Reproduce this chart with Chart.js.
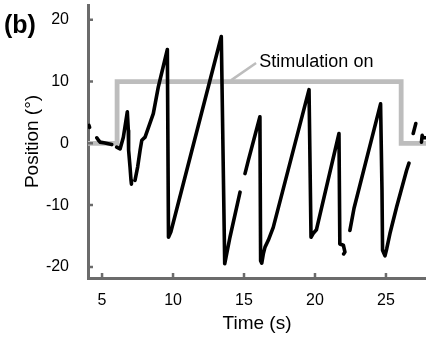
<!DOCTYPE html>
<html>
<head>
<meta charset="utf-8">
<script src="https://cdn.jsdelivr.net/npm/chart.js@4.4.1/dist/chart.umd.min.js"></script>
<style>
  html, body { margin: 0; padding: 0; background: #fff; }
  canvas { display: block; }
</style>
</head>
<body>
<canvas id="chart" width="426" height="341"></canvas>
<script>
// Eye position trace, time in s and position in degrees (null = gap in the recording)
const traceTime = [
    4.08, 4.12, 4.4,
    4.63, 4.75, 4.86, 5.21, 5.68, 5.85,
    6.03, 6.27, 6.5, 6.78, 6.85, 6.87, 6.97, 7.04, 7.07, 7.2,
    7.32, 7.51, 7.68, 7.8, 8.03, 8.61, 8.96, 9.6, 9.68, 9.85, 13.4, 13.64, 14.01, 14.72, 14.9,
    15.07, 15.3, 16.12, 16.17, 16.25, 16.36, 16.48, 16.71, 17.06, 19.58, 19.72, 19.9, 20.1,
    21.69, 21.75, 22.0, 22.11, 22.02, 22.3,
    22.46, 22.75, 24.62, 24.72, 24.76, 24.93, 25.05, 25.28, 25.75, 26.45, 26.62, 26.8,
    26.92, 27.1, 27.3,
    27.5, 27.55, 27.62, 27.8
];
const tracePos = [
    2.9, 2.6, null,
    0.9, 0.5, 0.2, 0.05, -0.2, null,
    -0.6, -0.9, 1.0, 5.1, 2.1, -1.1, -3.8, -6.0, -6.6, null,
    -6.0, -3.8, -1.1, 0.5, 1.0, 4.8, 9.1, 15.2, -15.2, -14.3, 17.3, -19.5, -15.2, -7.9, null,
    -4.9, -2.8, 4.3, -19.0, -19.4, -17.9, -16.8, -15.7, -13.6, 8.7, -15.2, -14.5, -14.0,
    1.6, -16.3, -16.5, -17.6, -17.9, null,
    -14.1, -10.5, 6.4, -7.6, -17.3, -18.2, -17.1, -14.6, -10.3, -4.4, -3.2, null,
    1.6, 3.2, null,
    0.2, 1.3, 0.9, 0.9
];

// Stimulation on/off level
const stimTime = [4.0, 6.06, 6.06, 26.07, 26.07, 27.82];
const stimPos = [0, 0, 10, 10, 0, 0];

// leader line from the stimulation trace to its label
const leaderTime = [14.08, 15.85];
const leaderPos = [10.2, 13.0];

const xTicks = [5, 10, 15, 20, 25];
const yTicks = [-20, -10, 0, 10, 20];

const axisColor = '#6b6b6b';
const stimColor = '#bdbdbd';
const fontFamily = '"Liberation Sans", Arial, Helvetica, sans-serif';

const toPoints = (xs, ys) => xs.map((x, i) => ({x: x, y: ys[i]}));

/**
 * Inward tick marks, panel letter and the stimulation label
 */
const decorations = {
    id: 'decorations',
    afterDraw(chart) {
        const {ctx, chartArea} = chart;
        const x = chart.scales.x;
        const y = chart.scales.y;
        ctx.save();
        ctx.strokeStyle = axisColor;
        ctx.lineWidth = 2.5;
        ctx.beginPath();
        xTicks.forEach((v) => {
            const px = x.getPixelForValue(v);
            ctx.moveTo(px, chartArea.bottom);
            ctx.lineTo(px, chartArea.bottom - 5);
        });
        yTicks.forEach((v) => {
            const py = y.getPixelForValue(v);
            ctx.moveTo(chartArea.left, py);
            ctx.lineTo(chartArea.left + 5, py);
        });
        ctx.stroke();

        ctx.fillStyle = '#000';
        ctx.textBaseline = 'middle';
        ctx.textAlign = 'left';
        ctx.font = 'bold 25px ' + fontFamily;
        ctx.fillText('(b)', 4, 26);
        ctx.font = '18px ' + fontFamily;
        ctx.fillText('Stimulation on', x.getPixelForValue(16.08), y.getPixelForValue(13.2));
        ctx.restore();
    }
};

new Chart(document.getElementById('chart'), {
    type: 'line',
    data: {
        datasets: [
            {
                data: toPoints(traceTime, tracePos),
                borderColor: '#000',
                borderWidth: 3.6,
                borderJoinStyle: 'round',
                borderCapStyle: 'round',
                pointRadius: 0,
                spanGaps: false,
                order: 1
            },
            {
                data: toPoints(stimTime, stimPos),
                borderColor: stimColor,
                borderWidth: 4.8,
                pointRadius: 0,
                order: 2
            },
            {
                data: toPoints(leaderTime, leaderPos),
                borderColor: stimColor,
                borderWidth: 2.5,
                pointRadius: 0,
                order: 3
            }
        ]
    },
    options: {
        responsive: false,
        animation: false,
        layout: {padding: {top: 5, left: 0, right: 0, bottom: 0}},
        plugins: {
            legend: {display: false},
            tooltip: {enabled: false}
        },
        scales: {
            x: {
                type: 'linear',
                min: 4.01,
                max: 27.82,
                grid: {display: false},
                border: {display: true, color: axisColor, width: 3},
                ticks: {color: '#000', padding: 5, font: {size: 16, family: fontFamily}},
                afterBuildTicks: (scale) => {
                    scale.ticks = xTicks.map((v) => ({value: v}));
                },
                afterFit: (scale) => {
                    scale.height = 63;
                    scale.paddingLeft = 0;
                    scale.paddingRight = 0;
                },
                title: {
                    display: true,
                    text: 'Time (s)',
                    color: '#000',
                    font: {size: 19, family: fontFamily},
                    padding: {top: 0, bottom: 5.6}
                }
            },
            y: {
                type: 'linear',
                min: -21.8,
                max: 22.4,
                grid: {display: false},
                border: {display: true, color: axisColor, width: 3},
                ticks: {color: '#000', padding: 11, font: {size: 16, family: fontFamily}},
                afterBuildTicks: (scale) => {
                    scale.ticks = yTicks.map((v) => ({value: v}));
                },
                afterFit: (scale) => {
                    scale.width = 88;
                    scale.paddingTop = 0;
                    scale.paddingBottom = 0;
                },
                title: {
                    display: true,
                    text: 'Position (°)',
                    color: '#000',
                    font: {size: 19, family: fontFamily},
                    padding: {top: 21.6, bottom: 0}
                }
            }
        }
    },
    plugins: [decorations]
});
</script>
</body>
</html>
